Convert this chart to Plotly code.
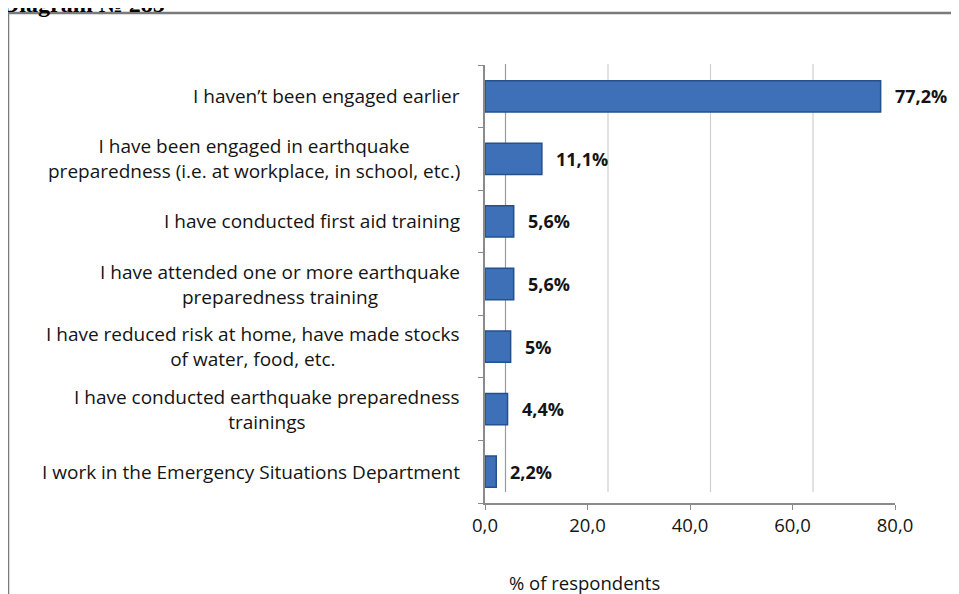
import plotly.graph_objects as go

# data (bottom to top, as plotted)
categories = [
    "I work in the Emergency Situations Department",
    "I have conducted earthquake preparedness<br>trainings",
    "I have reduced risk at home, have made stocks<br>of water, food, etc.",
    "I have attended one or more earthquake<br>preparedness training",
    "I have conducted first aid training",
    "I have been engaged in earthquake<br>preparedness (i.e. at workplace, in school, etc.)",
    "I haven’t been engaged earlier",
]
values = [2.2, 4.4, 5.0, 5.6, 5.6, 11.1, 77.2]
x_ticks = [0, 20, 40, 60, 80]

W, H = 959, 594
OFF = 8  # page body margin
FONT = "Open Sans"
INK = "#141414"


def px(x):
    # screen x pixel -> paper fraction
    return (x - OFF) / W


def py(y):
    # screen y pixel (from top) -> paper fraction
    return 1 - (y - OFF) / H


def fmt(v):
    return f"{v:g}".replace(".", ",") + "%"


fig = go.Figure()

fig.add_trace(go.Bar(
    y=list(range(len(categories))),
    x=values,
    orientation="h",
    width=0.5,
    marker=dict(color="#3d70b6", line=dict(color="#24508c", width=1.5)),
    hoverinfo="skip",
))

# back-wall gridlines (offset like the 3D original)
shapes = []
for t in x_ticks:
    shapes.append(dict(type="line", xref="x", yref="paper",
                       x0=t + 4, x1=t + 4, y0=py(492), y1=py(64),
                       line=dict(color="#cfcfcf" if t else "#9a9a9a", width=1.2),
                       layer="below"))
# outer frame
shapes.append(dict(type="rect", xref="paper", yref="paper",
                   x0=px(8), x1=1.02, y0=-0.02, y1=py(13),
                   line=dict(color="#7a7a7a", width=2.5)))

annotations = []
for i, (c, v) in enumerate(zip(categories, values)):
    annotations.append(dict(xref="paper", yref="y", x=px(462), y=i,
                            text=c, showarrow=False, xanchor="right",
                            yanchor="middle", align="center",
                            font=dict(family=FONT, size=19, color=INK)))
    annotations.append(dict(xref="x", yref="y", x=v, y=i, text=fmt(v),
                            showarrow=False, xanchor="left", yanchor="middle",
                            xshift=12,
                            font=dict(family=FONT, size=18, color=INK,
                                      weight="bold")))
annotations.append(dict(xref="paper", yref="paper", x=px(662), y=py(582),
                        text="% of respondents", showarrow=False,
                        yanchor="middle",
                        font=dict(family=FONT, size=18.5, color=INK)))
annotations.append(dict(xref="paper", yref="paper", x=px(0), y=py(19),
                        text="<b>Diagram № 285</b>", showarrow=False,
                        xanchor="left", yanchor="bottom",
                        font=dict(family="Liberation Serif", size=24, color="#000")))

fig.update_layout(
    template="none",
    width=W, height=H,
    margin=dict(l=0, r=0, t=0, b=0, pad=0),
    paper_bgcolor="white", plot_bgcolor="white",
    separators=",.",
    showlegend=False,
    bargap=0.5,
    xaxis=dict(domain=[px(485), px(895)], range=[0, 80], tickvals=x_ticks,
               tickformat=".1f", showgrid=False, zeroline=False,
               automargin=False,
               showline=True, linecolor="#8a8a8a", linewidth=1.5,
               ticks="outside", ticklen=5, tickcolor="#8a8a8a",
               tickfont=dict(family=FONT, size=18.5, color=INK)),
    yaxis=dict(domain=[py(503), py(65)], range=[-0.5, 6.5],
               showticklabels=False, showgrid=False, zeroline=False,
               automargin=False,
               showline=True, linecolor="#8a8a8a", linewidth=1.5,
               ticks="outside", ticklen=5, tickcolor="#8a8a8a",
               tickvals=[-0.5 + k for k in range(8)]),
    shapes=shapes,
    annotations=annotations,
)

fig.write_html("out.html")
